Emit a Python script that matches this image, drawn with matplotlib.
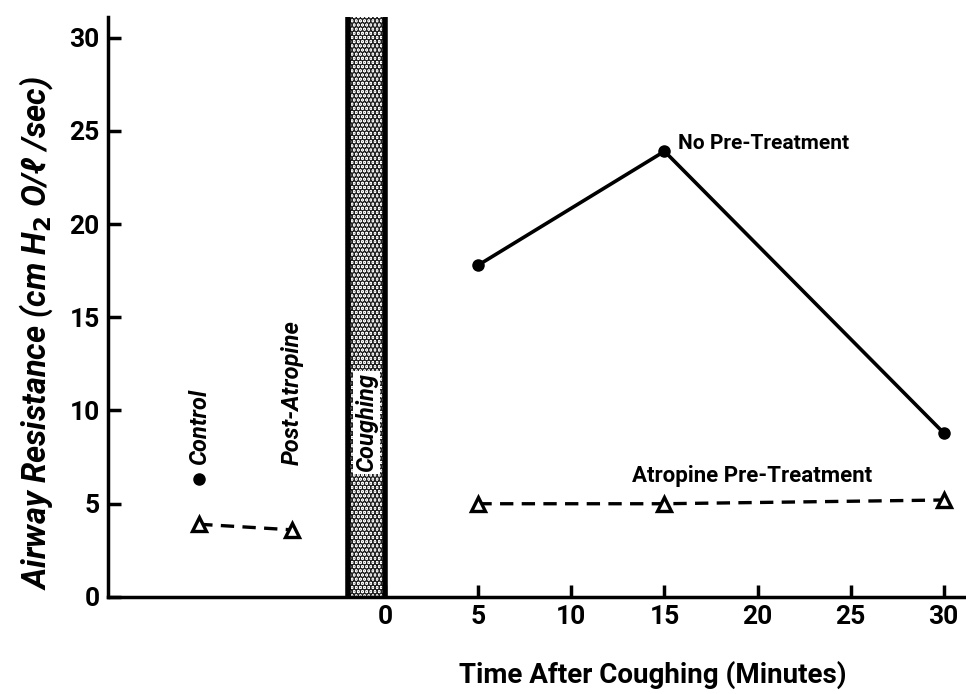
import matplotlib
matplotlib.use("Agg")
import matplotlib.pyplot as plt

plt.rcParams['font.family'] = ['Roboto', 'DejaVu Sans']
plt.rcParams['font.weight'] = 'bold'
plt.rcParams['axes.labelweight'] = 'bold'
plt.rcParams['hatch.linewidth'] = 3.2

# before coughing (control, post-atropine), plotted left of the coughing bar
pre_x = [-10, -5]
pre_labels = ['Control', 'Post-Atropine']
control_circle = 6.3
pre_triangles = [3.9, 3.6]

# after coughing
time_min = [5, 15, 30]
no_pretreat = [17.8, 23.9, 8.8]
atropine_pretreat = [5.0, 5.0, 5.2]

xticks = [0, 5, 10, 15, 20, 25, 30]
yticks = [0, 5, 10, 15, 20, 25, 30]
cough_span = (-2, 0)

fig = plt.figure(figsize=(9.66, 6.94), dpi=100)
ax = fig.add_axes([0.1118, 0.1398, 0.8882, 0.8357])

# coughing bar
ax.axvspan(cough_span[0], cough_span[1], facecolor='white', edgecolor='#222222',
           hatch='....', lw=0, zorder=1)
ax.axvline(cough_span[0], color='black', lw=4, zorder=2)
ax.axvline(cough_span[1], color='black', lw=4, zorder=2)
ax.text(sum(cough_span) / 2, 9.35, 'Coughing', rotation=90, ha='center', va='center',
        fontsize=17, style='italic', zorder=3,
        bbox=dict(facecolor='white', edgecolor='none', pad=1.5))

# pre-coughing points
ax.plot(pre_x[0], control_circle, 'o', color='black', ms=8)
ax.plot(pre_x, pre_triangles, '^', ls=(0, (4, 2.5)), color='black', lw=2.4,
        mfc='white', mec='black', ms=10, mew=2.4)
for xx, lab in zip(pre_x, pre_labels):
    ax.text(xx, 7.1, lab, rotation=90, ha='center', va='bottom', fontsize=17,
            style='italic')

# post-coughing series
ax.plot(time_min, no_pretreat, '-o', color='black', lw=2.6, ms=8)
ax.plot(time_min, atropine_pretreat, '^', ls=(0, (4, 2.5)), color='black', lw=2.4,
        mfc='white', mec='black', ms=10, mew=2.4)
ax.text(15.7, 24.3, 'No Pre-Treatment', ha='left', va='center', fontsize=15)
ax.text(13.25, 6.5, 'Atropine Pre-Treatment', ha='left', va='center', fontsize=16)

ax.set_xlim(-14.9, 31.2)
ax.set_ylim(0, 31.1)
ax.set_xticks(xticks)
ax.set_yticks(yticks)
ax.tick_params(direction='in', length=9, width=2.5, labelsize=19, pad=6)
for side in ['top', 'right']:
    ax.spines[side].set_visible(False)
for side in ['left', 'bottom']:
    ax.spines[side].set_linewidth(2.5)

ax.set_xlabel('Time After Coughing (Minutes)', fontsize=20)
ax.xaxis.set_label_coords(0.635, -0.11)
ax.set_ylabel('Airway Resistance (cm H$_2$ O/ℓ /sec)', fontsize=23.5, style='italic')
ax.yaxis.set_label_coords(-0.062, 0.455)

fig.savefig('out.png', dpi=100)
